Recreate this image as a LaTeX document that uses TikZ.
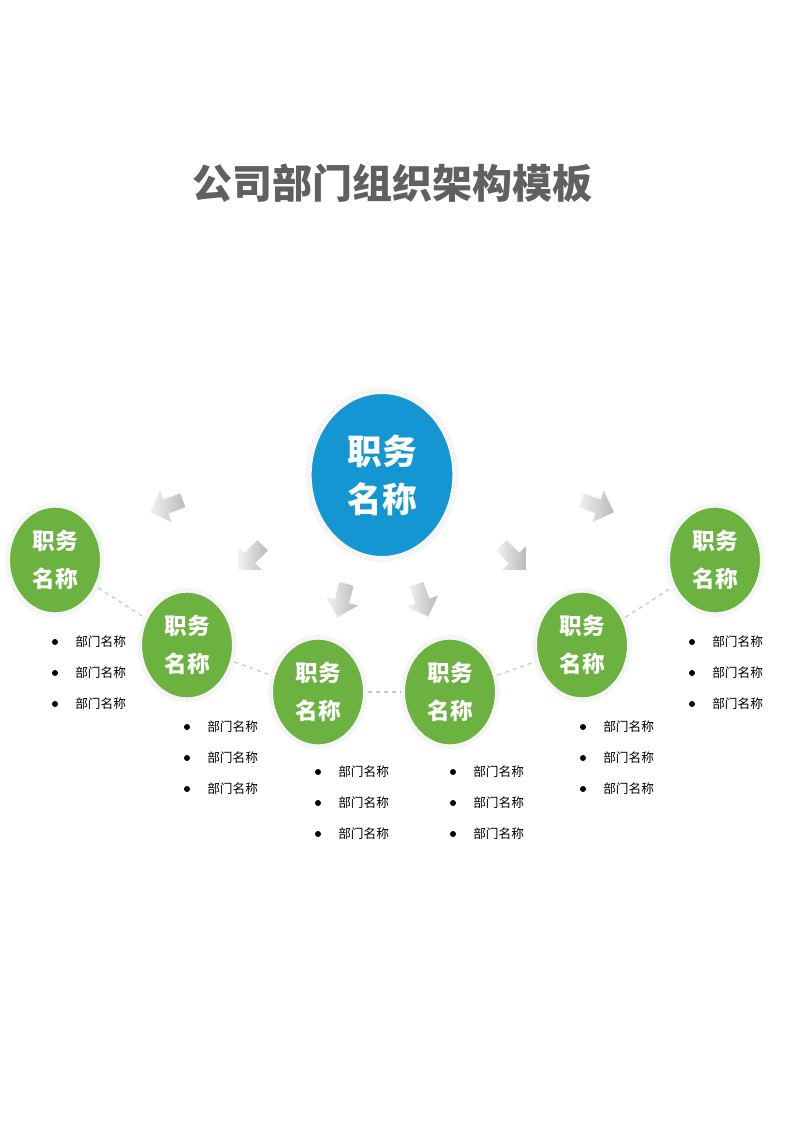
\documentclass[tikz,border=0pt]{standalone}
\usepackage{fontspec}
\setmainfont{Noto Sans CJK SC}
\usetikzlibrary{shapes.geometric, shapes.arrows}
\definecolor{topblue}{RGB}{20,150,210}
\definecolor{leafgreen}{RGB}{108,178,64}
\tikzstyle{head} = [ellipse, inner sep=0, minimum width=110, minimum height=126, fill=topblue, draw=gray!8, line width=4.5, text=white, font=\fontsize{26}{36}\selectfont\bfseries, align=center]
\tikzstyle{post} = [ellipse, inner sep=0, minimum width=71, minimum height=82, fill=leafgreen, draw=gray!8, line width=3.5, text=white, font=\fontsize{17}{28}\selectfont\bfseries, align=center]
\tikzstyle{pointer} = [single arrow, minimum height=26, minimum width=25, single arrow head extend=4, inner sep=3, left color=gray!10, right color=gray!55]
\tikzstyle{item} = [font=\fontsize{9.5}{12}\selectfont, anchor=west, inner sep=0]
\tikzstyle{link} = [dashed, gray!45, line width=0.9]

\begin{document}
\begin{tikzpicture}[x=0.75pt, y=-0.75pt]
            \useasboundingbox (0,0) rectangle (800,1131);
            \node [font=\fontsize{30}{36}\selectfont\bfseries, text=gray!75!black] at (392,183) (title) {公司部门组织架构模板};

            \node [pointer, rotate=200] at (170,505) (p1) {};
            \node [pointer, rotate=225] at (253,555) (p2) {};
            \node [pointer, rotate=255] at (343,597) (p3) {};
            \node [pointer, rotate=290] at (421,597) (p4) {};
            \node [pointer, rotate=315] at (511,555) (p5) {};
            \node [pointer, rotate=340] at (594,505) (p6) {};

            \node [head] at (382,475) (boss) {职务\\名称};
            \node [post] at (55,560) (post1) {职务\\名称};
            \node [post] at (187,645) (post2) {职务\\名称};
            \node [post] at (318,692) (post3) {职务\\名称};
            \node [post] at (450,692) (post4) {职务\\名称};
            \node [post] at (582,645) (post5) {职务\\名称};
            \node [post] at (715,560) (post6) {职务\\名称};

            \draw [link] (post1) -- (post2);
            \draw [link] (post2) -- (post3);
            \draw [link] (post3) -- (post4);
            \draw [link] (post4) -- (post5);
            \draw [link] (post5) -- (post6);

            \foreach \bx/\by/\n in {55/642/a, 187/727/b, 318/772/c, 453/772/d, 583/727/e, 692/642/f}
              \foreach \k in {0,1,2} {
                \fill (\bx,\by+31*\k) circle (3);
                \node [item] at (\bx+20,\by+31*\k) (dept\n\k) {部门名称};
              }
\end{tikzpicture}
\end{document}
